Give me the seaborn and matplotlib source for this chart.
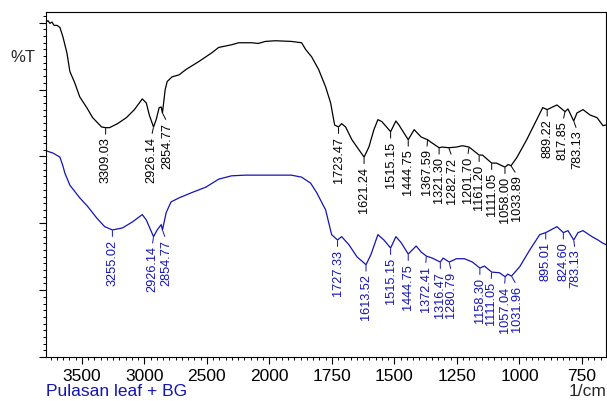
import numpy as np
import matplotlib
matplotlib.use('Agg')
import matplotlib.pyplot as plt
from matplotlib.ticker import FixedLocator, FixedFormatter, NullFormatter
import seaborn as sns

# ---- data (wavenumber 1/cm, %T in arbitrary units) ----
black_wn = [3786, 3770, 3754, 3738, 3722, 3698, 3675, 3651, 3619, 3595, 3556, 3516, 3460, 3413,
            3341, 3309.03, 3278, 3214, 3143, 3079, 3016, 2984, 2960, 2926.14, 2905, 2881, 2865,
            2854.77, 2833, 2817, 2778, 2722, 2667, 2563, 2460, 2405, 2302, 2246, 2143, 2087, 2032,
            1976, 1912, 1871, 1855, 1831, 1803, 1775, 1755, 1739, 1723.47, 1711, 1695, 1670, 1642,
            1621.24, 1602, 1582, 1566, 1550, 1515.15, 1494, 1482, 1444.75, 1421, 1393, 1367.59,
            1349, 1321.30, 1309, 1282.72, 1252, 1228, 1201.70, 1188, 1161.20, 1148, 1111.05, 1092,
            1058.00, 1045, 1033.89, 1011, 971, 931, 907, 889.22, 850, 817.85, 806, 783.13, 770,
            746, 718, 690, 666, 654]
black_t = [50.1, 50.3, 49.9, 50.1, 49.6, 49.6, 49.3, 47.9, 45.5, 42.7, 41.0, 38.9, 37.3, 35.8,
           34.4, 34.3, 34.3, 34.9, 35.8, 37.0, 38.6, 38.0, 36.2, 34.4, 35.5, 37.3, 37.4,
           36.5, 40.0, 41.2, 41.9, 42.2, 43.0, 44.2, 45.5, 46.3, 46.7, 47.0, 47.0, 46.9, 47.2,
           47.3, 47.2, 47.0, 46.0, 44.9, 43.0, 40.4, 38.0, 34.7, 34.4, 34.9, 34.4, 32.5, 31.0,
           29.9, 31.4, 34.0, 35.5, 35.2, 33.7, 35.3, 34.7, 32.5, 34.0, 32.9, 32.5,
           32.0, 31.3, 31.4, 31.3, 31.4, 31.6, 31.4, 31.0, 30.2, 30.2, 29.0, 29.0,
           28.4, 28.8, 28.6, 29.8, 32.5, 35.5, 37.3, 37.0, 37.7, 36.7, 37.1, 35.3, 36.5,
           37.0, 36.2, 35.8, 34.6, 34.7]

blue_wn = [3786, 3778, 3730, 3675, 3651, 3635, 3595, 3516, 3452, 3381, 3317, 3255.02, 3175, 3095,
           3016, 2984, 2926.14, 2897, 2865, 2854.77, 2825, 2786, 2722, 2619, 2508, 2405, 2302,
           2190, 2032, 1976, 1912, 1871, 1835, 1811, 1775, 1751, 1727.33, 1711, 1682, 1650,
           1613.52, 1594, 1566, 1542, 1515.15, 1494, 1473, 1444.75, 1413, 1393, 1372.41, 1349,
           1316.47, 1305, 1280.79, 1252, 1220, 1188, 1158.30, 1140, 1111.05, 1080, 1057.04, 1047,
           1031.96, 999, 959, 919, 895.01, 850, 824.60, 806, 783.13, 766, 746, 710, 686, 670, 654]
blue_t = [30.9, 30.8, 30.5, 29.9, 28.6, 27.5, 25.7, 23.8, 22.5, 20.8, 19.5, 19.0, 19.3, 20.2,
          21.3, 20.5, 18.0, 19.0, 19.8, 19.0, 21.6, 23.2, 23.8, 24.6, 25.4, 26.6, 27.1,
          27.2, 27.2, 27.2, 27.2, 26.9, 26.0, 24.6, 22.0, 18.3, 17.5, 18.0, 16.8, 15.0,
          13.8, 15.3, 18.3, 17.5, 16.3, 18.0, 17.1, 15.4, 16.6, 15.7, 15.1, 14.8,
          14.2, 14.8, 14.2, 14.7, 14.7, 14.2, 13.3, 13.6, 12.7, 12.6, 12.0, 12.4,
          12.1, 13.5, 16.0, 18.3, 18.6, 19.5, 18.6, 18.9, 17.5, 18.6, 18.9, 18.0, 17.5, 17.1, 16.8]

black_peaks = [3309.03, 2926.14, 2854.77, 1723.47, 1621.24, 1515.15, 1444.75, 1367.59, 1321.30,
               1282.72, 1201.70, 1161.20, 1111.05, 1058.00, 1033.89, 889.22, 817.85, 783.13]
blue_peaks = [3255.02, 2926.14, 2854.77, 1727.33, 1613.52, 1515.15, 1444.75, 1372.41, 1316.47,
              1280.79, 1158.30, 1111.05, 1057.04, 1031.96, 895.01, 824.60, 783.13]

major_ticks = [3500, 3000, 2500, 2000, 1750, 1500, 1250, 1000, 750]
sample_name = 'Pulasan leaf + BG'

# horizontal nudges of the peak labels (points), where the labels were spread apart
black_dx = {2926.14: -1.5, 2854.77: 3.5, 1367.59: -0.5, 1282.72: 2.5, 1201.70: -1.0,
            1033.89: 4.5, 817.85: -1.5, 783.13: 2.5}
blue_dx = {2926.14: -1.0, 2854.77: 2.5, 1372.41: -0.5, 1280.79: 1.5, 1111.05: -0.5,
           1057.04: -0.5, 1031.96: 4.0, 783.13: 1.0}

BLUE = '#1414b4'

sns.set_style('ticks')
plt.rcParams['font.family'] = ['Liberation Sans', 'DejaVu Sans']


# x axis is twice as stretched below 2000 1/cm
def fwd(w):
    w = np.asarray(w, dtype=float)
    return np.where(w > 2000, 2000 + (w - 2000) * 0.5, w)


def inv(p):
    p = np.asarray(p, dtype=float)
    return np.where(p > 2000, 2000 + (p - 2000) * 2.0, p)


fig = plt.figure(figsize=(6.07, 4.01), dpi=100)
ax = fig.add_axes([46 / 607, 1 - 357 / 401, 560 / 607, 345 / 401])

sns.lineplot(x=black_wn, y=black_t, ax=ax, color='black', lw=0.9, estimator=None, sort=False)
sns.lineplot(x=blue_wn, y=blue_t, ax=ax, color=BLUE, lw=0.9, estimator=None, sort=False)

ax.set_xscale('function', functions=(fwd, inv))
ax.set_xlim(3786, 654)
ax.set_ylim(0, 51.6)


def label_peaks(peaks, wn, t, color, dx):
    xs = np.array(wn)[::-1]
    ys = np.array(t)[::-1]
    for pk in peaks:
        yv = np.interp(pk, xs, ys)
        ax.annotate(f'{pk:.2f}', xy=(pk, yv), xytext=(dx.get(pk, 0), -7.0),
                    textcoords='offset points', rotation=90, ha='center', va='top',
                    fontsize=9.2, color=color,
                    arrowprops=dict(arrowstyle='-', color=color, lw=0.7,
                                    shrinkA=0, shrinkB=0.5, relpos=(0.5, 1.0)))


label_peaks(black_peaks, black_wn, black_t, 'black', black_dx)
label_peaks(blue_peaks, blue_wn, blue_t, BLUE, blue_dx)

# ticks
minor_x = list(range(3750, 2000, -50)) + list(range(1975, 650, -25))
ax.xaxis.set_major_locator(FixedLocator(major_ticks))
ax.xaxis.set_minor_locator(FixedLocator([m for m in minor_x if m not in major_ticks]))
ax.xaxis.set_major_formatter(FixedFormatter([str(m) for m in major_ticks]))
ax.xaxis.set_minor_formatter(NullFormatter())
ax.yaxis.set_major_locator(FixedLocator(range(0, 51, 10)))
ax.yaxis.set_minor_locator(FixedLocator(range(0, 52)))
ax.yaxis.set_major_formatter(NullFormatter())
ax.tick_params(axis='both', which='major', direction='out', length=5, width=0.8,
               labelsize=12.5, pad=3.5, color='black', labelcolor='black')
ax.tick_params(axis='both', which='minor', direction='out', length=2.2, width=0.7, color='black')
for sp in ax.spines.values():
    sp.set_visible(True)
    sp.set_linewidth(0.8)
    sp.set_color('black')
ax.set_xlabel('')
ax.set_ylabel('')

fig.text(10 / 607, 1 - 58 / 401, '%T', fontsize=12, va='center', ha='left')
fig.text(46 / 607, 1 - 392 / 401, sample_name, fontsize=12.5, color=BLUE, va='center', ha='left')
fig.text(606 / 607, 1 - 392 / 401, '1/cm', fontsize=12.5, va='center', ha='right')

fig.savefig('out.png', dpi=100)
